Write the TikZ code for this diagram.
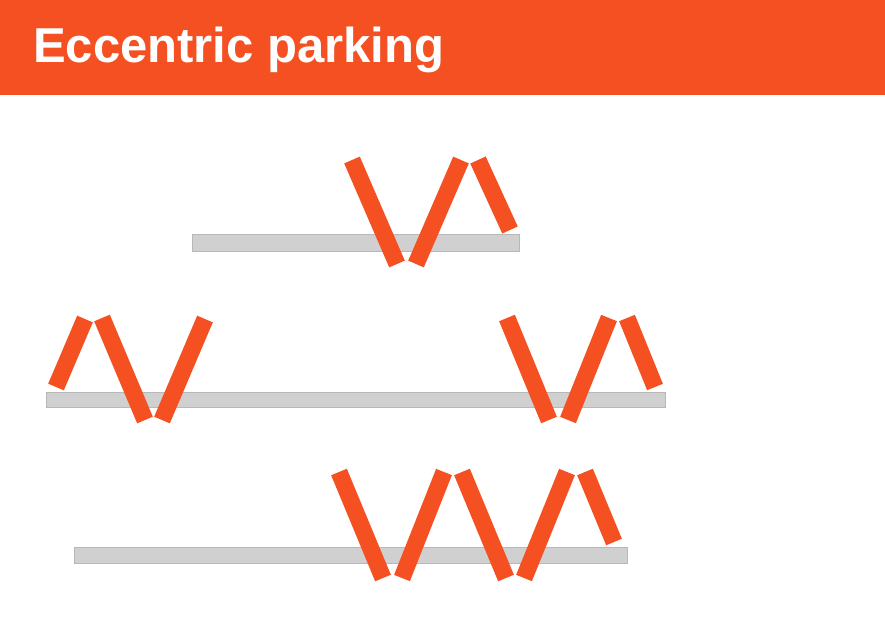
\documentclass[tikz,border=0pt]{standalone}
\usepackage{fontspec}
\setmainfont{Liberation Sans}
\usetikzlibrary{positioning}
\definecolor{parkorange}{RGB}{245,80,34}
\definecolor{railgray}{RGB}{208,208,208}
\definecolor{railedge}{RGB}{184,184,184}
\tikzset{
    x=1pt,
    y=-1pt,
    header/.style = {
        fill=parkorange,
        draw=none
    },
    title/.style = {
        anchor=base west,
        inner sep=0pt,
        text=white,
        font=\fontsize{49}{55}\selectfont\bfseries
    },
    rail/.style = {
        fill=railgray,
        draw=railedge,
        line width=1pt
    },
    plank/.style = {
        draw=parkorange,
        line width=17pt,
        line cap=butt
    },
}

\begin{document}
\begin{tikzpicture}
            \useasboundingbox (0,0) rectangle (885,622);
            \path[header] (0,0) rectangle (885,95);
            \node[title] (heading) at (33,62) {Eccentric parking};

            % top row
            \path[rail] (192,234) rectangle (519,251);
            \path[plank] (352,160) -- (397,264);
            \path[plank] (416,264) -- (461,160);
            \path[plank] (478,160) -- (510,230);

            % middle row
            \path[rail] (46,392) rectangle (665,407);
            \path[plank] (56,387) -- (85,319);
            \path[plank] (102,318) -- (145,420);
            \path[plank] (162,420) -- (205,319);
            \path[plank] (507,318) -- (549,420);
            \path[plank] (568,420) -- (609,318);
            \path[plank] (627,318) -- (655,387);

            % bottom row
            \path[rail] (74,547) rectangle (627,563);
            \path[plank] (339,472) -- (383,578);
            \path[plank] (402,578) -- (444,472);
            \path[plank] (462,472) -- (506,578);
            \path[plank] (524,578) -- (567,472);
            \path[plank] (585,472) -- (614,542);
\end{tikzpicture}
\end{document}
